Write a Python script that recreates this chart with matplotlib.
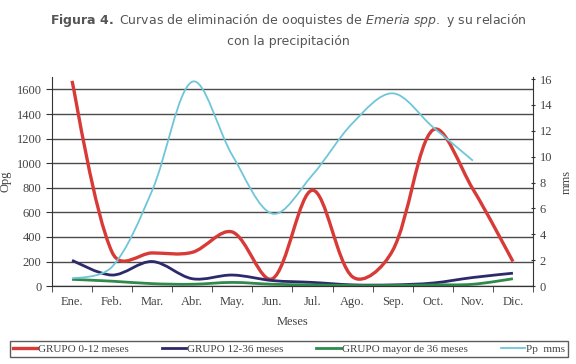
import numpy as np
import matplotlib
matplotlib.use("Agg")
import matplotlib.pyplot as plt
from matplotlib.path import Path
from matplotlib.patches import PathPatch
from matplotlib.lines import Line2D

######################################################
#data
######################################################
meses = ["Ene.", "Feb.", "Mar.", "Abr.", "May.", "Jun.", "Jul.", "Ago.", "Sep.", "Oct.", "Nov.", "Dic."]
grupo_0_12 = [1670, 275, 270, 275, 440, 60, 780, 75, 290, 1270, 790, 200]
grupo_12_36 = [210, 90, 200, 60, 90, 45, 30, 10, 10, 25, 70, 105]
grupo_36 = [55, 40, 20, 15, 30, 15, 10, 5, 5, 10, 15, 60]
pp_mms = [0.6, 1.5, 7.4, 15.8, 10.1, 5.6, 8.6, 12.6, 14.9, 12.3, 9.7]

plt.rcParams['mathtext.fontset'] = 'custom'
plt.rcParams['mathtext.rm'] = 'DejaVu Sans'
plt.rcParams['mathtext.bf'] = 'DejaVu Sans:bold'
plt.rcParams['mathtext.it'] = 'DejaVu Sans:italic'

serif = 'Liberation Serif'
txtcol = '#444444'


#excel like smoothed line, bezier path in data coords
#tangents partly weighted with the screen length of the segments
def smooth_path(a, y, mix=0.5):
    y = np.asarray(y, dtype=float)
    x = np.arange(len(y), dtype=float)
    pts = np.column_stack([x, y])
    scr = a.transData.transform(pts)
    n = len(pts)
    verts = [pts[0]]
    codes = [Path.MOVETO]
    for i in range(n - 1):
        i0, i1, i2, i3 = max(i - 1, 0), i, i + 1, min(i + 2, n - 1)
        d01 = np.hypot(*(scr[i1] - scr[i0]))
        d12 = np.hypot(*(scr[i2] - scr[i1]))
        d23 = np.hypot(*(scr[i3] - scr[i2]))
        w1 = 2 * d12 / (d01 + d12) if d01 > 0 else 0.0
        w2 = 2 * d12 / (d12 + d23) if d23 > 0 else 0.0
        f1 = ((1 - mix) + mix * w1) / 6.0
        f2 = ((1 - mix) + mix * w2) / 6.0
        c1 = pts[i1] + (pts[i2] - pts[i0]) * f1
        c2 = pts[i2] - (pts[i3] - pts[i1]) * f2
        verts += [c1, c2, pts[i2]]
        codes += [Path.CURVE4] * 3
    return Path(verts, codes)


fig = plt.figure(figsize=(5.76, 3.64), dpi=100)
ax = fig.add_axes([0.0903, 0.214, 0.835, 0.574])
ax2 = ax.twinx()

ax.set_xlim(-0.5, 11.5)
ax.set_ylim(0, 1700)
ax2.set_ylim(0, 16.15)

series = [
    (grupo_0_12, '#d83b37', 2.4, 'GRUPO 0-12 meses'),
    (grupo_12_36, '#2c2a6b', 2.0, 'GRUPO 12-36 meses'),
    (grupo_36, '#2f8a4c', 2.0, 'GRUPO mayor de 36 meses'),
]
handles = []
for vals, col, lw, lab in series:
    ax.add_patch(PathPatch(smooth_path(ax, vals), fill=False, edgecolor=col, lw=lw, zorder=3))
    handles.append(Line2D([], [], color=col, lw=lw, label=lab))

ax2.add_patch(PathPatch(smooth_path(ax2, pp_mms), fill=False, edgecolor='#6ec6d8', lw=1.3, zorder=3))
handles.append(Line2D([], [], color='#6ec6d8', lw=1.3, label='Pp  mms'))

ax.set_yticks(np.arange(0, 1601, 200))
ax.yaxis.grid(True, color='#4a4a4a', lw=1.0)
ax.set_axisbelow(True)
ax.set_xticks(np.arange(12))
ax.set_xticklabels(meses)
ax.set_xticks(np.arange(-0.5, 12, 1), minor=True)
ax.tick_params(axis='x', which='major', length=0, pad=7)
ax.tick_params(axis='x', which='minor', length=4, direction='out', color='#333333')
ax.tick_params(axis='y', length=4, direction='out', color='#333333')
ax2.set_yticks(np.arange(0, 17, 2))
ax2.tick_params(axis='y', length=3, direction='inout', color='#333333')

for a in (ax, ax2):
    a.spines['top'].set_visible(False)
    for s in a.spines.values():
        s.set_color('#333333')
    for lab in a.get_xticklabels() + a.get_yticklabels():
        lab.set_fontfamily(serif)
        lab.set_fontsize(9)
        lab.set_color(txtcol)
ax2.spines['left'].set_visible(False)
ax.spines['right'].set_visible(False)

ax.set_xlabel('Meses', fontfamily=serif, fontsize=9, color=txtcol, labelpad=6)
ax.set_ylabel('Opg', fontfamily=serif, fontsize=9, color=txtcol, labelpad=4)
ax2.set_ylabel('mms', fontfamily=serif, fontsize=9, color=txtcol, rotation=90, labelpad=6)

leg = fig.legend(handles=handles, loc='lower left', bbox_to_anchor=(0.017, 0.02, 0.969, 0.055),
                 mode='expand', ncol=4, frameon=True, fancybox=False,
                 prop={'family': serif, 'size': 8}, handlelength=2.2, handletextpad=0.1,
                 borderpad=0.25, borderaxespad=0, columnspacing=0.5)
leg.get_frame().set_edgecolor('#333333')
leg.get_frame().set_linewidth(1.0)
for t in leg.get_texts():
    t.set_color(txtcol)

fig.text(0.5, 0.945, r'$\mathbf{Figura\ 4.}$ Curvas de eliminación de ooquistes de $\mathit{Emeria\ spp.}$ y su relación',
         ha='center', va='center', fontsize=9, color='#555555')
fig.text(0.5, 0.885, 'con la precipitación', ha='center', va='center', fontsize=9, color='#555555')

fig.savefig('out.png', dpi=100)
